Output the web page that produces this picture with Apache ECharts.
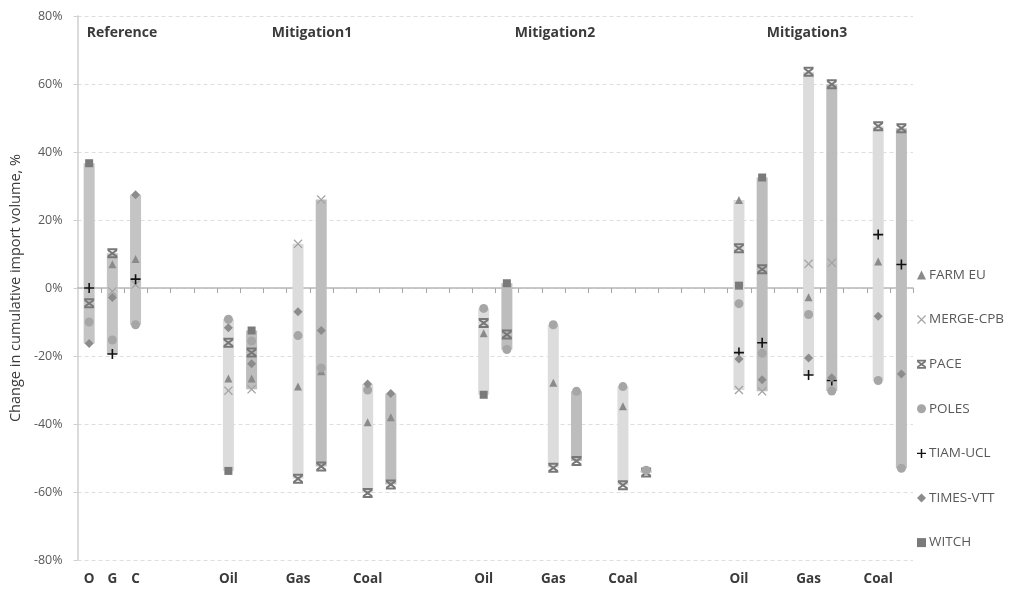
<!DOCTYPE html>
<html>
<head>
<meta charset="utf-8">
<script src="https://cdn.jsdelivr.net/npm/echarts@6/dist/echarts.min.js"></script>
<style>
html,body{margin:0;padding:0;background:#fff;}
#c{width:1015px;height:594px;}
</style>
</head>
<body>
<div id="c"></div>
<script>
// ---- DATA ----
// 36 category slots on the x axis (index based)
const xLabels = ['O','G','C','','','','Oil','','','Gas','','','Coal','','','','','Oil','','','Gas','','','Coal','','','','','Oil','','','Gas','','','Coal',''];
// range-bar variant per slot: 'R' reference, 'A' first variant, 'B' second variant, null = empty
const variant = ['R','R','R',null,null,null,'A','B',null,'A','B',null,'A','B',null,null,null,'A','B',null,'A','B',null,'A','B',null,null,null,'A','B',null,'A','B',null,'A','B'];
const groupTitles = ['Reference','Mitigation1','Mitigation2','Mitigation3'];
const yTicks = [-80,-60,-40,-20,0,20,40,60,80];
const N = null;
//                 O     G     C   -  -  -  M1Oil  M1Oil  - M1Gas M1Gas - M1Coal M1Coal -  -  - M2Oil M2Oil - M2Gas M2Gas - M2Coal M2Coal - - - M3Oil M3Oil - M3Gas M3Gas - M3Coal M3Coal
const farmEU   = [N,    7,    8.5, N,N,N, -26.6, -26.6, N, -29,  -24.5, N, -39.5, -38,   N,N,N, -13.3, N,    N, -27.9, N,    N, -34.8, N,     N,N,N, 25.9, N,     N, -2.7, N,    N, 7.8,  N];
const mergeCPB = [N,   -1,    1,   N,N,N, -30.2, -29.8, N, 13,   26,    N, N,     N,     N,N,N, N,     N,    N, N,     N,    N, N,     N,     N,N,N, -30,  -30.4, N, 7.1,  7.4,  N, N,    N];
const pace     = [-4.5, 10.2, N,   N,N,N, -16.1, -19,   N, -56.1,-52.5, N, -60.3, -57.8, N,N,N, -10.3, -13.7,N, -52.9, -50.9,N, -58,   -54.3, N,N,N, 11.7, 5.5,   N, 63.6, 59.9, N, 47.6, 47];
const poles    = [-10, -15.3, -10.8,N,N,N, -9.2,  -15.6, N, -14,  -23.5, N, -30,   N,     N,N,N, -6,    -18.1,N, -10.8, -30.4,N, -29,   -53.6, N,N,N, -4.6, -19.2, N, -7.8, -30.3,N, -27.2,-53];
const tiamUCL  = [0,  -19.4,  2.6, N,N,N, N,     N,     N, N,    N,     N, N,     N,     N,N,N, N,     N,    N, N,     N,    N, N,     N,     N,N,N, -19,  -16.1, N, -25.6,-27.2,N, 15.7, 6.9];
const timesVTT = [-16.3,-2.8, 27.4,N,N,N, -11.7, -22.3, N, -7,   -12.5, N, -28.2, -31,   N,N,N, N,     N,    N, N,     N,    N, N,     N,     N,N,N, -20.9,-27,   N, -20.6,-26.4,N, -8.3, -25.3];
const witch    = [36.7, N,    N,   N,N,N, -53.8, -12.5, N, N,    N,     N, N,     N,     N,N,N, -31.4, 1.4,  N, N,     N,    N, N,     N,     N,N,N, 0.7,  32.5,  N, N,    N,    N, N,    N];
const models = [
  {name:'FARM EU',   values: farmEU},
  {name:'MERGE-CPB', values: mergeCPB},
  {name:'PACE',      values: pace},
  {name:'POLES',     values: poles},
  {name:'TIAM-UCL',  values: tiamUCL},
  {name:'TIMES-VTT', values: timesVTT},
  {name:'WITCH',     values: witch}
];

// ---- STYLE ----
const FONT = 'Open Sans, Noto Sans, sans-serif';
const markerStyle = {
  'FARM EU':   {symbol:'triangle', size:8, color:'#8a8a8a'},
  'MERGE-CPB': {symbol:'path://M1,0L5,4L9,0L10,1L6,5L10,9L9,10L5,6L1,10L0,9L4,5L0,1Z', size:9, color:'#a3a3a3'},
  'PACE':      {symbol:'path://M0,0H10V2H0Z M0,8H10V10H0Z M1,1.2L5,3.6L9,1.2L10,2.6L6.6,5L10,7.4L9,8.8L5,6.4L1,8.8L0,7.4L3.4,5L0,2.6Z', size:10, color:'#777777'},
  'POLES':     {symbol:'circle', size:9, color:'#a6a6a6'},
  'TIAM-UCL':  {symbol:'path://M4.2,0H5.8V4.2H10V5.8H5.8V10H4.2V5.8H0V4.2H4.2Z', size:10, color:'#111111'},
  'TIMES-VTT': {symbol:'diamond', size:9, color:'#8c8c8c'},
  'WITCH':     {symbol:'rect', size:8, color:'#7a7a7a'}
};
const variantColor = {R:'#c4c4c4', A:'#dcdcdc', B:'#bdbdbd'};

// range bars from min/max of model values per slot
const rangeData = [];
for (let i = 0; i < xLabels.length; i++) {
  if (!variant[i]) continue;
  const vals = models.map(m => m.values[i]).filter(v => v !== null && v !== undefined);
  if (!vals.length) continue;
  rangeData.push([i, Math.min(...vals), Math.max(...vals), variant[i]]);
}
const tickData = xLabels.map((_, i) => [i, 0]);

const chart = echarts.init(document.getElementById('c'), null, {renderer:'canvas'});
const cats = xLabels.map((_, i) => String(i));

const series = [{
  type:'custom',
  name:'range',
  xAxisIndex:0,
  yAxisIndex:0,
  z:1,
  silent:true,
  data: rangeData,
  encode:{x:0, y:[1,2]},
  renderItem: function(params, api){
    const x = api.value(0);
    const lo = api.coord([x, api.value(1)]);
    const hi = api.coord([x, api.value(2)]);
    const w = 11;
    const v = rangeData[params.dataIndex][3];
    return {
      type:'rect',
      shape:{x: lo[0]-w/2, y: hi[1], width: w, height: Math.max(lo[1]-hi[1], 2)},
      style:{fill: variantColor[v]}
    };
  }
},{
  // small tick marks on the zero line at category boundaries
  type:'custom',
  name:'zeroTicks',
  xAxisIndex:0,
  yAxisIndex:0,
  z:4,
  silent:true,
  data: tickData,
  encode:{x:0, y:1},
  renderItem: function(params, api){
    const x0 = api.value(0);
    const p = api.coord([x0, 0]);
    const q = api.coord([x0 + 1, 0]);
    const x = Math.round((p[0] + q[0]) / 2);
    return {
      type:'rect',
      shape:{x:x, y:p[1], width:1, height:5},
      style:{fill:'#a8a8a8'}
    };
  }
}];
models.forEach(m => {
  const st = markerStyle[m.name];
  const d = [];
  m.values.forEach((v, i) => { if (v !== null) d.push([i, v]); });
  series.push({
    type:'scatter',
    name:m.name,
    xAxisIndex:0,
    yAxisIndex:0,
    z:3,
    symbol:st.symbol,
    symbolSize:st.size,
    itemStyle:{color:st.color, opacity:1},
    data:d
  });
});

const titleX = [122, 312, 555, 807];
const option = {
  animation:false,
  backgroundColor:'#ffffff',
  textStyle:{fontFamily:FONT},
  grid:{left:77, right:102, top:16, bottom:34, containLabel:false},
  legend:{
    orient:'vertical',
    left:912, top:263,
    itemWidth:9, itemHeight:9,
    itemGap:30.6,
    textStyle:{fontFamily:FONT, fontSize:13.5, color:'#595959', padding:[0,0,0,-2]},
    data: models.map(m => m.name)
  },
  xAxis:[{
    type:'category',
    data:cats,
    position:'bottom',
    boundaryGap:true,
    axisLine:{show:false, onZero:false},
    axisTick:{show:false},
    splitLine:{show:false},
    axisLabel:{
      interval:0, margin:12,
      formatter: (v, i) => xLabels[i],
      fontFamily:FONT, fontSize:13.5, fontWeight:'bold', color:'#3a3a3a'
    }
  },{
    type:'category',
    data:cats,
    position:'bottom',
    boundaryGap:true,
    axisLine:{show:true, onZero:true, lineStyle:{color:'#b8b8b8', width:1.5}},
    axisTick:{show:false},
    axisLabel:{show:false},
    splitLine:{show:false}
  }],
  yAxis:{
    type:'value',
    min:-80, max:80, interval:20,
    name:'Change in cumulative import volume, %',
    nameLocation:'middle',
    nameRotate:90,
    nameGap:52,
    nameTextStyle:{fontFamily:FONT, fontSize:14.5, color:'#3a3a3a'},
    axisLine:{show:true, lineStyle:{color:'#cfcfcf', width:1.5}},
    axisTick:{show:true, length:4, lineStyle:{color:'#cfcfcf'}},
    axisLabel:{
      margin:15,
      formatter: v => (yTicks.indexOf(v) >= 0 ? v + '%' : ''),
      fontFamily:FONT, fontSize:12.5, color:'#595959'
    },
    splitLine:{show:true, lineStyle:{color:'#dedede', type:[4,3], width:1}}
  },
  graphic: groupTitles.map((t, i) => ({
    type:'text',
    x:titleX[i], y:26,
    style:{text:t, fontFamily:FONT, fontSize:14, fontWeight:'bold', fill:'#3a3a3a', textAlign:'center'}
  })),
  series:series
};
chart.setOption(option);
</script>
</body>
</html>
